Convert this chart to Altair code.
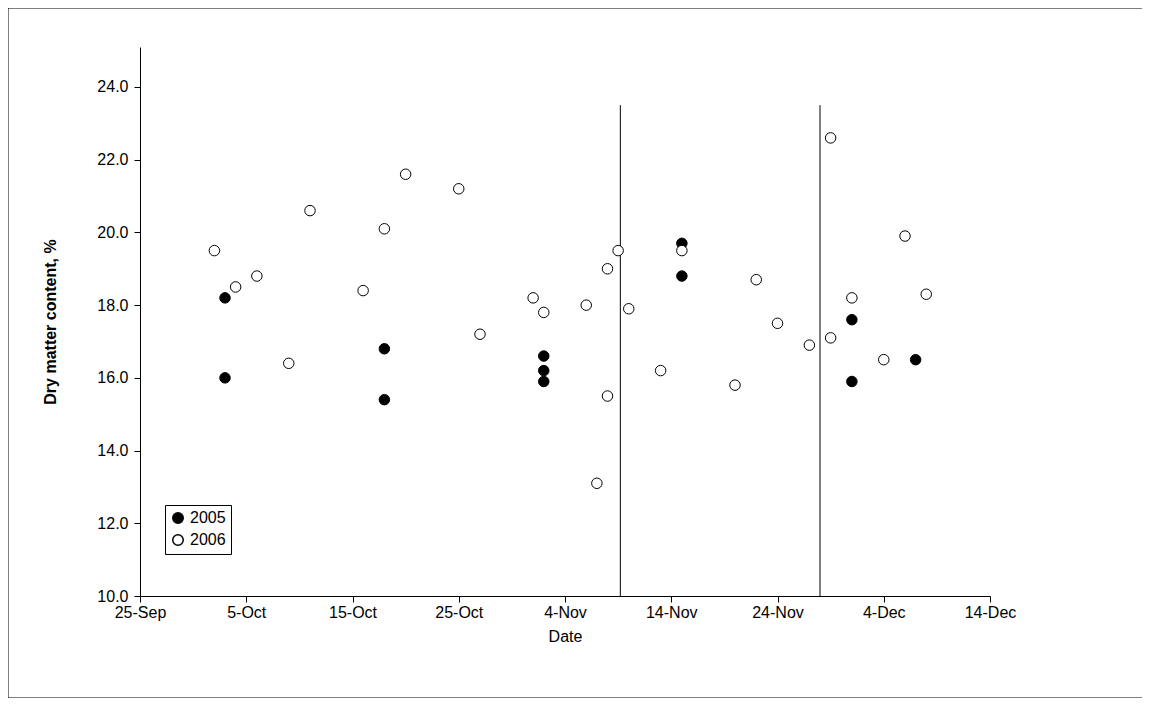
import pandas as pd
import altair as alt

# dates and dry matter values
d05 = ['2006-10-03', '2006-10-03', '2006-10-18', '2006-10-18', '2006-11-02', '2006-11-02',
       '2006-11-02', '2006-11-15', '2006-11-15', '2006-12-01', '2006-12-01', '2006-12-07']
v05 = [18.2, 16.0, 16.8, 15.4, 16.6, 16.2, 15.9, 19.7, 18.8, 17.6, 15.9, 16.5]

d06 = ['2006-10-02', '2006-10-04', '2006-10-06', '2006-10-09', '2006-10-11', '2006-10-16',
       '2006-10-18', '2006-10-20', '2006-10-25', '2006-10-27', '2006-11-01', '2006-11-02',
       '2006-11-06', '2006-11-07', '2006-11-08', '2006-11-08', '2006-11-09', '2006-11-10',
       '2006-11-13', '2006-11-15', '2006-11-20', '2006-11-22', '2006-11-24', '2006-11-27',
       '2006-11-29', '2006-11-29', '2006-12-01', '2006-12-04', '2006-12-06', '2006-12-08']
v06 = [19.5, 18.5, 18.8, 16.4, 20.6, 18.4, 20.1, 21.6, 21.2, 17.2, 18.2, 17.8,
       18.0, 13.1, 19.0, 15.5, 19.5, 17.9, 16.2, 19.5, 15.8, 18.7, 17.5, 16.9,
       22.6, 17.1, 18.2, 16.5, 19.9, 18.3]

lines = ['2006-11-09 05:00', '2006-11-28']
ticks = ['2006-09-25', '2006-10-05', '2006-10-15', '2006-10-25', '2006-11-04',
         '2006-11-14', '2006-11-24', '2006-12-04', '2006-12-14']

data = pd.DataFrame({'date': d05 + d06, 'dm': v05 + v06,
                     'year': ['2005'] * len(d05) + ['2006'] * len(d06)})
vlines = pd.DataFrame({'date': lines, 'y1': [10, 10], 'y2': [23.5, 23.5]})

xscale = alt.Scale(domain=[alt.DateTime(year=2006, month=9, date=25),
                           alt.DateTime(year=2006, month=12, date=14)])
yscale = alt.Scale(domain=[10, 25.1], nice=False)

pts = alt.Chart(data).mark_point(filled=True, size=110, stroke='black', strokeWidth=1, opacity=1).encode(
    x=alt.X('date:T', scale=xscale, title='Date',
            axis=alt.Axis(values=[alt.DateTime(year=2006, month=int(t[5:7]), date=int(t[8:10])) for t in ticks],
                          format='%-d-%b', grid=False, labelFlush=False, tickSize=6, titlePadding=8)),
    y=alt.Y('dm:Q', scale=yscale, title='Dry matter content, %',
            axis=alt.Axis(values=list(range(10, 25, 2)), format='.1f', grid=False, tickSize=6,
                          labelPadding=6, titleFontWeight='bold', titlePadding=38)),
    fill=alt.Fill('year:N', scale=alt.Scale(domain=['2005', '2006'], range=['black', 'white']),
                  legend=alt.Legend(title=None, orient='none', legendX=25, legendY=458,
                                    strokeColor='black', padding=5, symbolStrokeColor='black',
                                    symbolSize=110, labelFontSize=16, rowPadding=4))
)

rules = alt.Chart(vlines).mark_rule(color='black', strokeWidth=1).encode(
    x=alt.X('date:T', scale=xscale), y=alt.Y('y1:Q', scale=yscale), y2='y2:Q')

frame = alt.Chart(pd.DataFrame({'a': [0]})).mark_rect(fill=None, stroke='black', strokeWidth=1).encode(
    x=alt.value(-132), x2=alt.value(1003), y=alt.value(-39), y2=alt.value(651))

chart = alt.layer(frame, rules, pts).properties(
    width=850, height=549, autosize=alt.AutoSizeParams(type='none'),
    padding={'left': 132, 'top': 39, 'right': 152, 'bottom': 102}
).configure_view(stroke=None).configure_axis(
    domainColor='black', tickColor='black', labelColor='black', titleColor='black',
    labelFont='Liberation Sans', titleFont='Liberation Sans', labelFontSize=16, titleFontSize=16,
    titleFontWeight='normal'
).configure_legend(labelFont='Liberation Sans', labelColor='black')

chart.save('out.html', embed_options={'renderer': 'svg', 'actions': False})
